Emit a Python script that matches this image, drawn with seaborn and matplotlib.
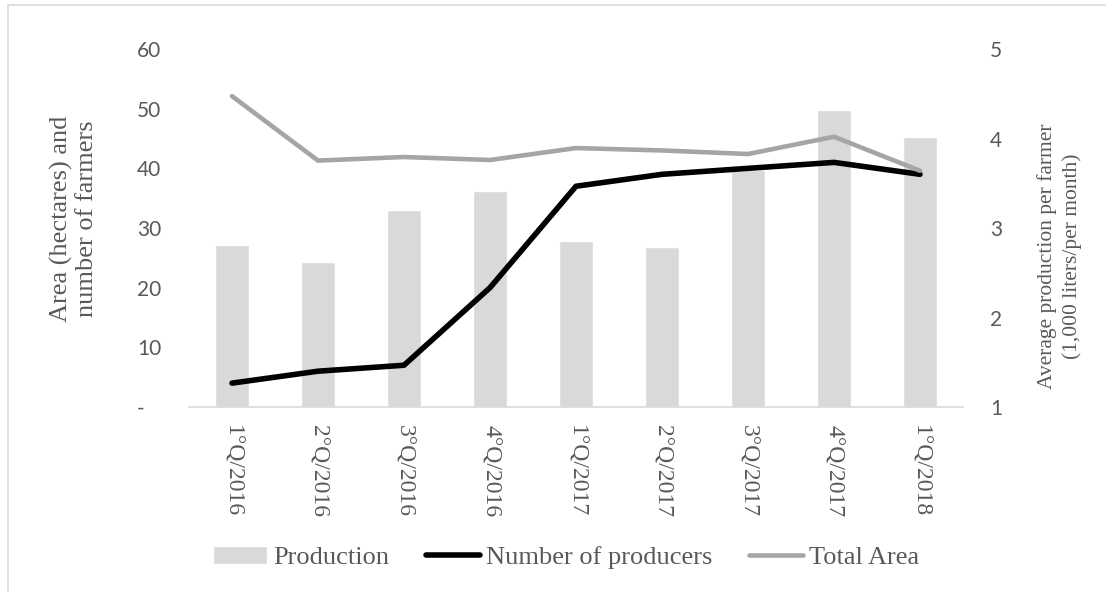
import numpy as np
import pandas as pd
import matplotlib
matplotlib.use("Agg")
import matplotlib.pyplot as plt
import seaborn as sns
from matplotlib.lines import Line2D

# ---- data ----
categories = ["1°Q/2016", "2°Q/2016", "3°Q/2016", "4°Q/2016",
              "1°Q/2017", "2°Q/2017", "3°Q/2017", "4°Q/2017", "1°Q/2018"]
production = [2.81, 2.62, 3.20, 3.41, 2.86, 2.79, 3.65, 4.32, 4.02]   # right axis
producers = [4, 6, 7, 20, 37, 39, 40, 41, 39]                         # left axis
total_area = [52.1, 41.3, 41.9, 41.4, 43.4, 43.0, 42.4, 45.3, 39.6]   # left axis
left_ticks = [0, 10, 20, 30, 40, 50, 60]
left_tick_labels = ["-", "10", "20", "30", "40", "50", "60"]
right_ticks = [1, 2, 3, 4, 5]
right_tick_labels = ["1", "2", "3", "4", "5"]
series_names = ["Production", "Number of producers", "Total Area"]

TXT = "#595959"
sns.set_theme(style="white")
plt.rcParams["font.family"] = ["Liberation Serif", "DejaVu Sans"]

df = pd.DataFrame({"quarter": categories, "production": production,
                   "pos": np.arange(len(categories)),
                   "producers": producers, "area": total_area})

fig = plt.figure(figsize=(11.06, 5.92), dpi=100)
ax = fig.add_axes([0.1709, 0.3125, 0.6998, 0.6047])

sns.barplot(data=df, x="quarter", y="production", ax=ax, color="#d9d9d9",
            saturation=1, width=0.4)
ax.set_ylim(1, 5)
ax.set_xlim(-0.5, len(categories) - 0.5)

ax2 = ax.twinx()
sns.lineplot(data=df, x="pos", y="producers", ax=ax2, color="black",
             lw=4, solid_capstyle="round")
sns.lineplot(data=df, x="pos", y="area", ax=ax2, color="#a5a5a5",
             lw=3.3, solid_capstyle="round")
ax2.set_ylim(0, 60)

# right axis (bars)
ax.yaxis.tick_right()
ax.set_yticks(right_ticks)
ax.set_yticklabels(right_tick_labels)
ax.tick_params(axis="y", length=0, pad=19.5, labelsize=15, labelcolor=TXT)
for lab in ax.get_yticklabels():
    lab.set_fontfamily("Lato")
ax.set_ylabel("Average production per farmer\n(1,000 liters/per month)",
              fontsize=15.5, color=TXT, rotation=90, linespacing=1.35)
ax.yaxis.set_label_position("right")
ax.yaxis.set_label_coords(1.0956, 0.42)

# left axis (lines)
ax2.yaxis.tick_left()
ax2.set_yticks(left_ticks)
ax2.set_yticklabels([l + "   " if l == "-" else l for l in left_tick_labels])
ax2.tick_params(axis="y", length=0, pad=20, labelsize=15, labelcolor=TXT)
for lab in ax2.get_yticklabels():
    lab.set_fontfamily("Lato")
ax2.set_ylabel("Area (hectares) and\nnumber of farmers", fontsize=19, color=TXT)
ax2.yaxis.set_label_position("left")
ax2.yaxis.set_label_coords(-0.1176, 0.525)

# x axis
ax.set_xticks(range(len(categories)))
ax.set_xticklabels(categories, rotation=-90, fontsize=17, color=TXT)
ax.tick_params(axis="x", length=0, pad=13)
ax.set_xlabel("")
ax2.set_xlabel("")

for a in (ax, ax2):
    for s in a.spines.values():
        s.set_visible(False)
ax.spines["bottom"].set_visible(True)
ax.spines["bottom"].set_color("#d9d9d9")
ax.spines["bottom"].set_linewidth(1.2)

fig.legend(handles=[ax.patches[0], ax2.lines[0], ax2.lines[1]],
           labels=series_names, loc="center", bbox_to_anchor=(0.512, 0.058),
           ncol=3, frameon=False, fontsize=19, handlelength=2.05,
           handletextpad=0.22, columnspacing=1.4, labelcolor=TXT)

# chart-area border (top and left edges visible)
bx, by = 8 / 1106, 1 - 4.5 / 592
fig.add_artist(Line2D([bx, 1], [by, by], transform=fig.transFigure,
                      color="#d9d9d9", lw=1.2))
fig.add_artist(Line2D([bx, bx], [0, by], transform=fig.transFigure,
                      color="#d9d9d9", lw=1.2))

fig.savefig("out.png", dpi=100)
